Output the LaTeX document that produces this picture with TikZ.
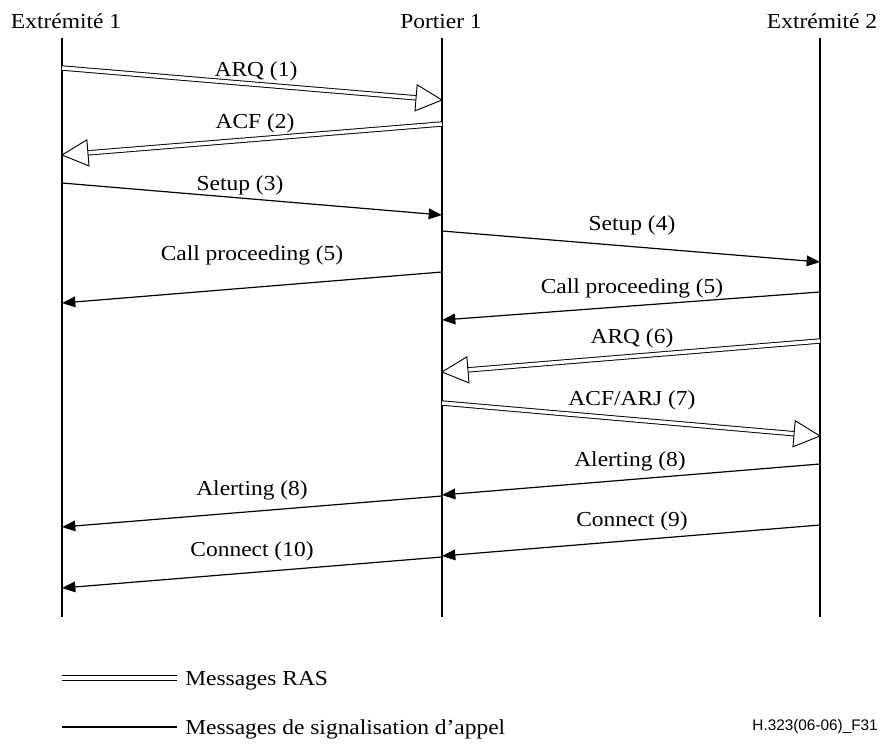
\documentclass[tikz,border=0pt]{standalone}
\usepackage{fontspec}
\setmainfont{Liberation Serif}[FakeStretch=1.1]
\newfontfamily\figsans{Liberation Sans}
\usetikzlibrary{arrows.meta,decorations.markings}

\begin{document}
\begin{tikzpicture}[x=0.75pt,y=-0.75pt,
  every node/.style={font=\fontsize{16}{19}\selectfont, inner sep=0pt},
  head/.style={anchor=base},
  lbl/.style={anchor=base},
  lifeline/.style={line width=2.2pt},
  sig/.style={line width=0.9pt, -{Triangle[length=10pt,width=8pt]}},
  rasline/.style={double, double distance=2.6pt, line width=0.7pt},
  ras/.style={rasline, shorten >=12pt, postaction={decorate},
    decoration={markings, mark=at position 1 with {
      \draw[line width=0.7pt, fill=white, shorten >=0pt, line join=miter]
        (0,0) -- (-19.5pt,9.8pt) -- (-19.5pt,-9.8pt) -- cycle;}}}]

\useasboundingbox (0,0) rectangle (883,744);

% entity headings
\node[head] (h1) at (66,28) {Extrémité 1};
\node[head] (h2) at (441,28) {Portier 1};
\node[head] (h3) at (822,28) {Extrémité 2};

% lifelines
\coordinate (a0) at (62,38);  \coordinate (a1) at (62,617);
\coordinate (b0) at (442,38); \coordinate (b1) at (442,617);
\coordinate (c0) at (820,38); \coordinate (c1) at (820,617);
\draw[lifeline] (a0) -- (a1);
\draw[lifeline] (b0) -- (b1);
\draw[lifeline] (c0) -- (c1);

% message end points on the lifelines
\coordinate (m1s) at (62,68);   \coordinate (m1e) at (442,100);
\coordinate (m2s) at (442,124); \coordinate (m2e) at (62,155);
\coordinate (m3s) at (62,183);  \coordinate (m3e) at (442,215);
\coordinate (m4s) at (442,231); \coordinate (m4e) at (820,262);
\coordinate (m5s) at (442,272); \coordinate (m5e) at (62,303);
\coordinate (m6s) at (820,292); \coordinate (m6e) at (442,320);
\coordinate (m7s) at (820,341); \coordinate (m7e) at (442,372);
\coordinate (m8s) at (442,403); \coordinate (m8e) at (820,436);
\coordinate (m9s) at (820,464); \coordinate (m9e) at (442,495);
\coordinate (m10s) at (442,496); \coordinate (m10e) at (62,527);
\coordinate (m11s) at (820,525); \coordinate (m11e) at (442,556);
\coordinate (m12s) at (442,557); \coordinate (m12e) at (62,588);

% messages
\draw[ras] (m1s) -- (m1e) node[lbl] at (256,76) {ARQ (1)};
\draw[ras] (m2s) -- (m2e) node[lbl] at (255,128) {ACF (2)};
\draw[sig] (m3s) -- (m3e) node[lbl] at (240,190) {Setup (3)};
\draw[sig] (m4s) -- (m4e) node[lbl] at (632,230) {Setup (4)};
\draw[sig] (m5s) -- (m5e) node[lbl] at (252,260) {Call proceeding (5)};
\draw[sig] (m6s) -- (m6e) node[lbl] at (632,293) {Call proceeding (5)};
\draw[ras] (m7s) -- (m7e) node[lbl] at (632,343) {ARQ (6)};
\draw[ras] (m8s) -- (m8e) node[lbl] at (632,405) {ACF/ARJ (7)};
\draw[sig] (m9s) -- (m9e) node[lbl] at (630,466) {Alerting (8)};
\draw[sig] (m10s) -- (m10e) node[lbl] at (252,495) {Alerting (8)};
\draw[sig] (m11s) -- (m11e) node[lbl] at (632,526) {Connect (9)};
\draw[sig] (m12s) -- (m12e) node[lbl] at (252,556) {Connect (10)};

% legend
\coordinate (k1s) at (62,678); \coordinate (k1e) at (177,678);
\coordinate (k2s) at (62,727); \coordinate (k2e) at (177,727);
\draw[rasline] (k1s) -- (k1e);
\draw[line width=0.9pt] (k2s) -- (k2e);
\node[anchor=base west] (t1) at (185,685) {Messages RAS};
\node[anchor=base west] (t2) at (185,734) {Messages de signalisation d'appel};

\node[anchor=base east, font=\figsans\fontsize{11.5}{13}\selectfont] (ref) at (878,730) {H.323(06-06)\_F31};
\end{tikzpicture}
\end{document}
